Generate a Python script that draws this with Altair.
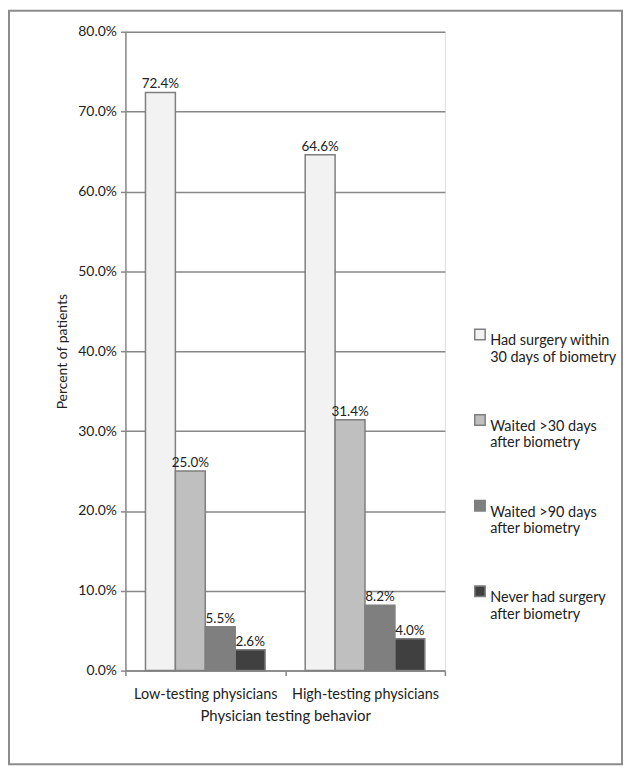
import altair as alt
import pandas as pd

groups = ["Low-testing physicians", "High-testing physicians"]
series = [
    "Had surgery within|30 days of biometry",
    "Waited >30 days|after biometry",
    "Waited >90 days|after biometry",
    "Never had surgery|after biometry",
]
low_vals = [72.4, 25.0, 5.5, 2.6]
high_vals = [64.6, 31.4, 8.2, 4.0]
colors = ["#f2f2f2", "#bfbfbf", "#7f7f7f", "#404040"]

rows = []
for g, vals in zip(groups, [low_vals, high_vals]):
    for i, (s, v) in enumerate(zip(series, vals)):
        rows.append({"group": g, "series": s, "order": i, "value": v / 100.0,
                     "label": f"{v:.1f}%"})
df = pd.DataFrame(rows)

FONT = "Lato"

x = alt.X("group:N", sort=groups, title="Physician testing behavior",
          scale=alt.Scale(paddingInner=0, paddingOuter=0),
          axis=alt.Axis(labelAngle=0, tickBand="extent", ticks=True, tickSize=5,
                        domainColor="#888888", tickColor="#888888", domainWidth=1.5,
                        tickWidth=1.5, labelFontSize=14.5, labelColor="#222222",
                        labelPadding=12, titleFontSize=15, titleFontWeight="normal",
                        titleColor="#222222", titlePadding=8, grid=False))
xo = alt.XOffset("series:N", sort=series,
                 scale=alt.Scale(paddingInner=0, paddingOuter=0.67))
y = alt.Y("value:Q", title="Percent of patients",
          scale=alt.Scale(domain=[0, 0.8]),
          axis=alt.Axis(format=".1%", values=[i / 10 for i in range(9)],
                        tickSize=5, tickColor="#888888", domainColor="#888888",
                        domainWidth=1.5, tickWidth=1.5, gridColor="#888888",
                        gridWidth=1.5, labelFontSize=14, labelColor="#222222",
                        labelPadding=4, titleFontSize=14, titleFontWeight="normal",
                        titleColor="#222222", titlePadding=8))

bars = alt.Chart(df).mark_bar(stroke="#7f7f7f", strokeWidth=1.5).encode(
    x=x, xOffset=xo, y=y,
    color=alt.Color("series:N", sort=series,
                    scale=alt.Scale(domain=series, range=colors),
                    legend=alt.Legend(
                        title=None, orient="none", legendX=349, legendY=297,
                        symbolType="square", symbolSize=110, symbolStrokeColor="#7f7f7f",
                        symbolStrokeWidth=1.5, labelFontSize=14.5, labelColor="#222222",
                        labelExpr="split(datum.label, '|')", labelLimit=300,
                        rowPadding=47, labelOffset=3, labelBaseline="top")),
)

texts = alt.Chart(df).mark_text(baseline="bottom", dy=-1, fontSize=13.5,
                                color="#222222", font=FONT).encode(
    x=x, xOffset=xo, y=y, text="label:N")

border = alt.Chart(pd.DataFrame({"a": [0]})).mark_rect(
    fill="transparent", stroke="#8c8c8c", strokeWidth=2).encode(
    x=alt.value(-117), x2=alt.value(499), y=alt.value(-21), y2=alt.value(736))

chart = alt.layer(border, bars, texts).properties(
    width=321, height=642,
    autosize=alt.AutoSizeParams(type="none"),
    padding={"left": 118, "top": 22, "right": 181, "bottom": 94},
).configure_view(strokeWidth=0, stroke="transparent").configure(font=FONT)

chart.save("out.html", embed_options={"renderer": "svg", "actions": False})
